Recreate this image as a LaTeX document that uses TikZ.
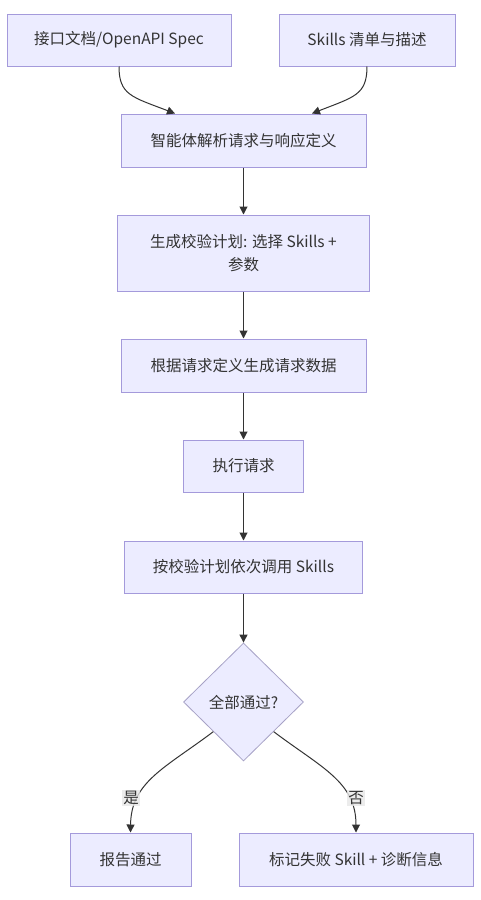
\documentclass[tikz,border=0pt]{standalone}
\usepackage{fontspec}
\setmainfont{Noto Sans CJK SC}
\usetikzlibrary{shapes.geometric,arrows.meta,calc}
\definecolor{boxfill}{HTML}{ECECFF}
\definecolor{boxdraw}{HTML}{A49ADB}
\definecolor{decdraw}{HTML}{A7A2C6}
\definecolor{txt}{HTML}{333333}
\definecolor{lblfill}{HTML}{E8E8E8}
\begin{document}
\begin{tikzpicture}[x=1pt,y=-1pt,
  box/.style={draw=boxdraw,fill=boxfill,line width=1pt,rectangle,inner sep=0pt,
    text=txt,font=\fontsize{15.5}{23}\selectfont,align=center},
  dec/.style={draw=decdraw,fill=boxfill,line width=0.8pt,diamond,inner sep=0pt,
    minimum width=120pt,minimum height=118pt,text=txt,font=\fontsize{15.5}{23}\selectfont},
  arr/.style={draw=txt,line width=1pt,-{Triangle[length=8pt,width=8pt]}},
  lbl/.style={fill=lblfill,fill opacity=0.8,text opacity=1,text=txt,inner sep=1.5pt,
    font=\fontsize{15.5}{18}\selectfont}]
\useasboundingbox (0,0) rectangle (480,900);
\fill[white] (0,0) rectangle (480,900);
\node[box,minimum width=224pt,minimum height=52pt] (b1) at (119,40) {接口文档/OpenAPI Spec};
\node[box,minimum width=176pt,minimum height=52pt] (b2) at (367,40) {Skills 清单与描述};
\node[box,minimum width=245pt,minimum height=53pt] (b3) at (243.5,140.5) {智能体解析请求与响应定义};
\node[box,minimum width=252pt,minimum height=76pt] (b4) at (243.5,253) {生成校验计划: 选择 Skills +\\参数};
\node[box,minimum width=245pt,minimum height=53pt] (b5) at (243.5,365.5) {根据请求定义生成请求数据};
\node[box,minimum width=120pt,minimum height=52pt] (b6) at (243.5,466) {执行请求};
\node[box,minimum width=238pt,minimum height=52pt] (b7) at (243.5,567) {按校验计划依次调用 Skills};
\node[dec] (d) at (243.5,702) {全部通过?};
\node[box,minimum width=121pt,minimum height=53pt] (b8) at (130.5,859.5) {报告通过};
\node[box,minimum width=234pt,minimum height=53pt] (b9) at (356,859.5) {标记失败 Skill + 诊断信息};
\coordinate (e1) at ([xshift=-68.5pt]b3.north);
\coordinate (e2) at ([xshift=68.5pt]b3.north);
\draw[arr] (b1.south) .. controls (119,95) and (132,97) .. (e1);
\draw[arr] (b2.south) .. controls (367,95) and (354,97) .. (e2);
\draw[arr] (b3) -- (b4);
\draw[arr] (b4) -- (b5);
\draw[arr] (b5) -- (b6);
\draw[arr] (b6) -- (b7);
\draw[arr] (b7) -- (d);
\coordinate (dl) at ($(d.west)!0.5!(d.south)$);
\coordinate (dr) at ($(d.east)!0.5!(d.south)$);
\draw[arr] (dl) .. controls (165,768) and (131,782) .. (b8.north);
\draw[arr] (dr) .. controls (322,768) and (356,782) .. (b9.north);
\node[lbl] (l1) at (131,798) {是};
\node[lbl] (l2) at (356,798) {否};
\end{tikzpicture}
\end{document}
